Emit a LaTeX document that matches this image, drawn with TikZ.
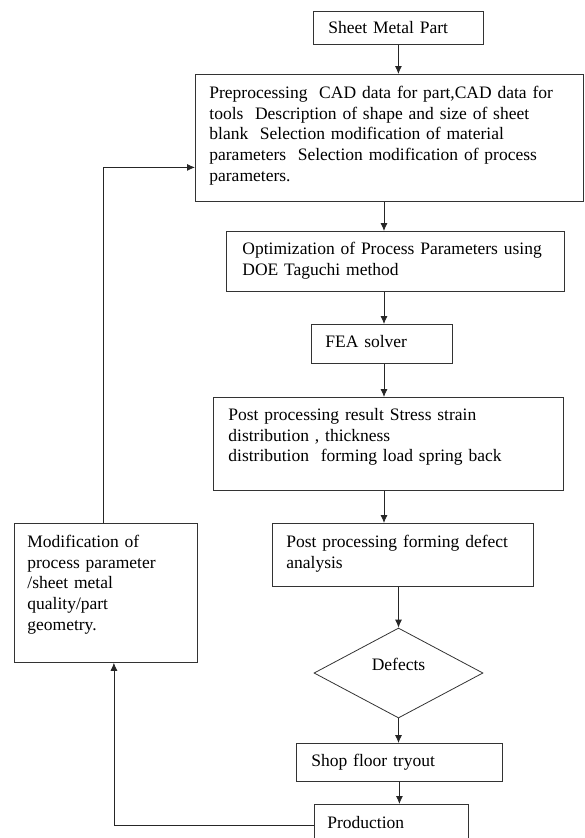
\documentclass[tikz,border=0pt]{standalone}
\usepackage{fontspec}
\setmainfont{Liberation Serif}
\usepackage{tikz}
\usetikzlibrary{arrows.meta,shapes.geometric}

\tikzset{
  blok/.style={draw=black!80, line width=0.8pt, anchor=north west, align=left,
    inner ysep=0pt, font=\fontsize{17.5}{20.7}\selectfont},
  pijl/.style={draw=black!85, line width=0.8pt, -{Latex[length=8pt,width=7pt]}}
}

\begin{document}
\begin{tikzpicture}[x=1pt,y=-1pt]
\useasboundingbox (0,0) rectangle (584,838);
%
\node[blok, inner xsep=15pt, text width=140pt, text height=22pt, text depth=11pt] (sheet) at (313,11) {Sheet Metal Part};
\node[blok, inner xsep=14pt, text width=360pt, text height=24pt, text depth=103pt] (pre) at (195,74)
  {Preprocessing\ \ CAD data for part,CAD data for\\
   tools\ \ Description of shape and size of sheet\\
   blank\ \ Selection modification of material\\
   parameters\ \ Selection modification of process\\
   parameters.};
\node[blok, inner xsep=16pt, text width=306pt, text height=23pt, text depth=37pt] (opt) at (226,231)
  {Optimization of Process Parameters using\\ DOE Taguchi method};
\node[blok, inner xsep=14pt, text width=113pt, text height=23pt, text depth=16pt] (fea) at (311,324) {FEA solver};
\node[blok, inner xsep=15pt, text width=320pt, text height=23pt, text depth=70pt] (post) at (213,397)
  {Post processing result Stress strain\\
   distribution , thickness\\
   distribution\ \ forming load spring back};
\node[blok, inner xsep=14pt, text width=233pt, text height=24pt, text depth=39pt] (defect) at (272,523)
  {Post processing forming defect\\ analysis};
\node[blok, inner xsep=13pt, text width=157pt, text height=24pt, text depth=115pt] (mod) at (14,523)
  {Modification of\\ process parameter\\ /sheet metal\\ quality/part\\ geometry.};
\node[draw=black!80, line width=0.8pt, diamond, minimum width=169pt, minimum height=90pt, inner sep=0pt,
  text height=12pt, text depth=18pt, font=\fontsize{17.5}{20.7}\selectfont] (dia) at (398.5,673) {Defects};
\node[blok, inner xsep=15pt, text width=176pt, text height=23pt, text depth=15pt] (shop) at (296,743) {Shop floor tryout};
\node[blok, inner xsep=13pt, text width=128pt, text height=24pt, text depth=17pt] (prod) at (314,804) {Production};
%
\coordinate (spine) at (384,0);
\draw[pijl] (sheet.south) -- (sheet.south |- pre.north);
\draw[pijl] (pre.south -| spine) -- (opt.north -| spine);
\draw[pijl] (opt.south -| spine) -- (fea.north -| spine);
\draw[pijl] (fea.south -| spine) -- (post.north -| spine);
\draw[pijl] (post.south -| spine) -- (defect.north -| spine);
\draw[pijl] (defect.south -| dia.north) -- (dia.north);
\draw[pijl] (dia.south) -- (dia.south |- shop.north);
\draw[pijl] (shop.south) -- (shop.south |- prod.north);
%
\draw[pijl] (prod.west) -| ([xshift=8pt]mod.south);
\draw[pijl] ([xshift=-3pt]mod.north) |- ([yshift=-29.5pt]pre.west);
\end{tikzpicture}
\end{document}
